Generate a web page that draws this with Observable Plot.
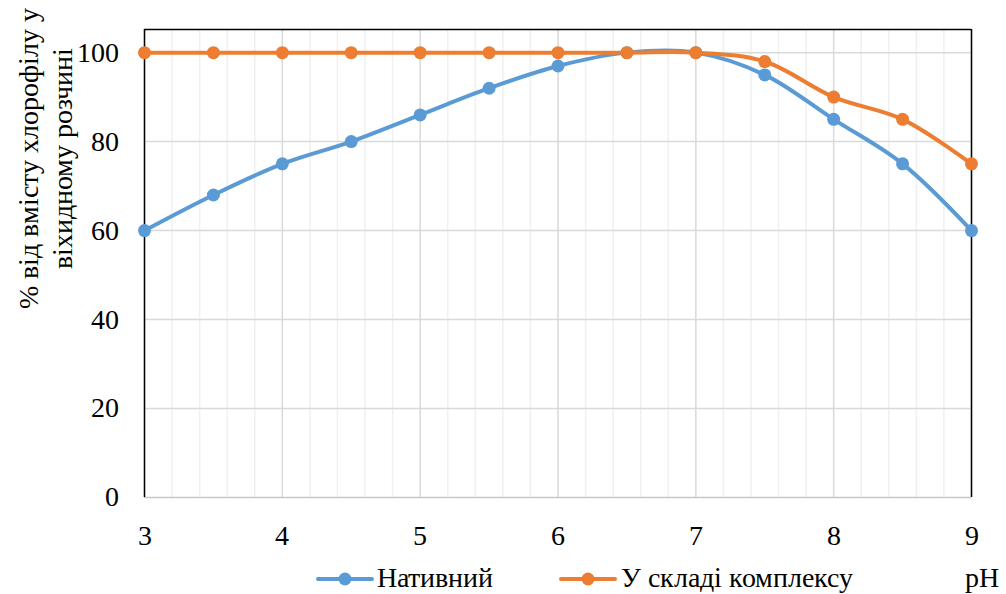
<!DOCTYPE html>
<html><head><meta charset="utf-8">
<style>
@font-face { font-family: "ChartSerif"; src: local("Liberation Serif"), local("LiberationSerif"), local("Liberation Serif Regular"), local("LiberationSerif-Regular"); }
</style>
<script src="https://cdn.jsdelivr.net/npm/d3@7"></script>
<script src="https://cdn.jsdelivr.net/npm/@observablehq/plot@0.6"></script>
</head><body style="margin:0;background:#fff;">
<div id="wrap" style="position:relative;width:1006px;height:594px;overflow:hidden;font-family:'Liberation Serif',serif;"><div id="chart"></div></div>
<script>
const ph = [3, 3.5, 4, 4.5, 5, 5.5, 6, 6.5, 7, 7.5, 8, 8.5, 9];
const nativeVals = [60, 68, 75, 80, 86, 92, 97, 100, 100, 95, 85, 75, 60];
const complexVals = [100, 100, 100, 100, 100, 100, 100, 100, 100, 98, 90, 85, 75];
const seriesNames = ["Нативний", "У складі комплексу"];
const colors = ["#5B9BD5", "#ED7D31"];
const xTicks = [3, 4, 5, 6, 7, 8, 9];
const yTicks = [0, 20, 40, 60, 80, 100];
const yTitle = ["% від вмісту хлорофілу у", "віхидному розчині"];
const xTitle = "pH";
const FONT = "ChartSerif, 'Liberation Serif', serif";

const data = [
  ...ph.map((x, i) => ({x, y: nativeVals[i], s: seriesNames[0]})),
  ...ph.map((x, i) => ({x, y: complexVals[i], s: seriesNames[1]}))
];
const minor = d3.range(3, 9.001, 0.2).map(v => +v.toFixed(1)).filter(v => !xTicks.includes(v));
const yTop = 105.2;

const chart = Plot.plot({
  width: 1006, height: 555,
  marginLeft: 144, marginRight: 35, marginTop: 29, marginBottom: 58,
  style: `background:#fff;font-family:${FONT};font-size:28px;`,
  x: {domain: [3, 9], label: null},
  y: {domain: [0, yTop], label: null},
  color: {domain: seriesNames, range: colors},
  marks: [
    Plot.gridX(minor, {stroke: "#f0f0f0", strokeOpacity: 1, strokeWidth: 1.5}),
    Plot.gridX(xTicks, {stroke: "#d9d9d9", strokeOpacity: 1, strokeWidth: 1.5}),
    Plot.gridY(yTicks.filter(v => v > 0), {stroke: "#d9d9d9", strokeOpacity: 1, strokeWidth: 1.5}),
    Plot.ruleY([0], {stroke: "#c8c8c8", strokeWidth: 1.5}),
    Plot.ruleX([3, 9], {stroke: "#000", strokeWidth: 1.5}),
    Plot.ruleY([yTop], {stroke: "#000", strokeWidth: 1.5}),
    Plot.line(data, {x: "x", y: "y", stroke: "s", z: "s", strokeWidth: 4, curve: "catmull-rom"}),
    Plot.dot(data, {x: "x", y: "y", fill: "s", r: 6.5, stroke: null}),
    Plot.axisX({ticks: xTicks, tickSize: 0, tickPadding: 28, label: null, tickFormat: d => String(d), fontSize: 28}),
    Plot.axisY({ticks: yTicks, tickSize: 0, tickPadding: 26, label: null, tickFormat: d => String(d), fontSize: 28})
  ]
});
document.getElementById("chart").appendChild(chart);
chart.style.display = "block";

const svg = d3.select(chart);
const t = svg.append("text")
  .attr("transform", "translate(28,158) rotate(-90)")
  .attr("text-anchor", "middle")
  .attr("font-family", FONT)
  .attr("font-size", 28)
  .attr("fill", "#000");
yTitle.forEach((line, i) => {
  t.append("tspan").attr("x", 0).attr("dy", i === 0 ? "0.35em" : "34").text(line);
});
svg.selectAll("text").attr("font-family", FONT).attr("font-size", 28)
  .style("font-family", FONT).style("font-size", "28px");

const wrap = document.getElementById("wrap");
function swatch(left, color) {
  const s = document.createElementNS("http://www.w3.org/2000/svg", "svg");
  s.setAttribute("width", 58); s.setAttribute("height", 20);
  s.style.position = "absolute";
  s.style.left = left + "px"; s.style.top = "569px";
  s.innerHTML = `<line x1="2" y1="10" x2="56" y2="10" stroke="${color}" stroke-width="4" stroke-linecap="round"/><circle cx="29" cy="10" r="6.5" fill="${color}"/>`;
  wrap.appendChild(s);
}
function label(left, text) {
  const d = document.createElement("div");
  d.textContent = text;
  d.style.cssText = `position:absolute;left:${left}px;top:562px;font-family:${FONT};font-size:28px;line-height:32px;color:#000;white-space:nowrap;`;
  wrap.appendChild(d);
}
swatch(316, colors[0]); label(377, seriesNames[0]);
swatch(559, colors[1]); label(621, seriesNames[1]);
label(965, xTitle);
</script>
</body></html>
